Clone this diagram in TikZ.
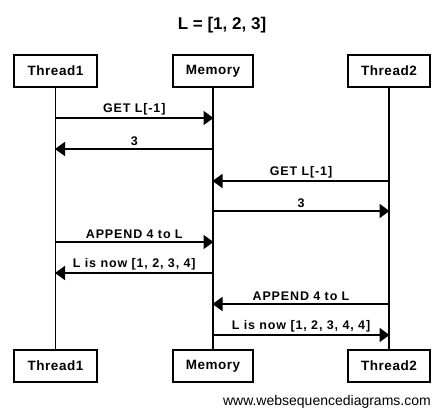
\documentclass[tikz,border=0pt]{standalone}
\usepackage{fontspec}
\setmainfont{Liberation Sans}
\usepackage{tikz}
\usetikzlibrary{arrows.meta,positioning}

\begin{document}
\begin{tikzpicture}[
    x=1pt, y=-1pt,
    actor/.style={draw, line width=1.8pt, minimum height=32pt, inner sep=0pt, font=\bfseries\fontsize{13.5}{15}\selectfont\addfontfeature{LetterSpace=4}},
    lifeline/.style={line width=1.8pt},
    msg/.style={line width=1.8pt, -{Triangle[length=10pt, width=14pt]}, shorten >=-0.5pt},
    msglabel/.style={above, inner sep=2pt, font=\bfseries\fontsize{12.5}{14}\selectfont\addfontfeature{LetterSpace=7}},
]
\useasboundingbox (0,0) rectangle (443,416);

% title
\node[font=\bfseries\fontsize{17}{20}\selectfont] (title) at (222,25) {L = [1, 2, 3]};

% participants, top and bottom
\node[actor, minimum width=83pt] (t1top) at (55.5,71) {Thread1};
\node[actor, minimum width=80pt] (memtop) at (213,71) {Memory};
\node[actor, minimum width=82pt] (t2top) at (389,71) {Thread2};
\node[actor, minimum width=83pt] (t1bot) at (55.5,366) {Thread1};
\node[actor, minimum width=80pt] (membot) at (213,366) {Memory};
\node[actor, minimum width=82pt] (t2bot) at (389,366) {Thread2};

% lifelines
\draw[lifeline] (t1top) -- (t1bot);
\draw[lifeline] (memtop) -- (membot);
\draw[lifeline] (t2top) -- (t2bot);

% points on the lifelines
\coordinate (t1a) at (t1top |- 0,118);
\coordinate (mema) at (memtop |- 0,118);
\coordinate (t1b) at (t1top |- 0,149);
\coordinate (memb) at (memtop |- 0,149);
\coordinate (t2c) at (t2top |- 0,181);
\coordinate (memc) at (memtop |- 0,181);
\coordinate (memd) at (memtop |- 0,211);
\coordinate (t2d) at (t2top |- 0,211);
\coordinate (t1e) at (t1top |- 0,242);
\coordinate (meme) at (memtop |- 0,242);
\coordinate (memf) at (memtop |- 0,273);
\coordinate (t1f) at (t1top |- 0,273);
\coordinate (t2g) at (t2top |- 0,304);
\coordinate (memg) at (memtop |- 0,304);
\coordinate (memh) at (memtop |- 0,335);
\coordinate (t2h) at (t2top |- 0,335);

% messages
\draw[msg] (t1a) -- node[msglabel] {GET L[-1]} (mema);
\draw[msg] (memb) -- node[msglabel] {3} (t1b);
\draw[msg] (t2c) -- node[msglabel] {GET L[-1]} (memc);
\draw[msg] (memd) -- node[msglabel] {3} (t2d);
\draw[msg] (t1e) -- node[msglabel] {APPEND 4 to L} (meme);
\draw[msg] (memf) -- node[msglabel] {L is now [1, 2, 3, 4]} (t1f);
\draw[msg] (t2g) -- node[msglabel] {APPEND 4 to L} (memg);
\draw[msg] (memh) -- node[msglabel] {L is now [1, 2, 3, 4, 4]} (t2h);

% watermark
\node[anchor=base east, inner sep=0pt, font=\fontsize{14}{16}\selectfont] (mark) at (431,405) {www.websequencediagrams.com};
\end{tikzpicture}
\end{document}
